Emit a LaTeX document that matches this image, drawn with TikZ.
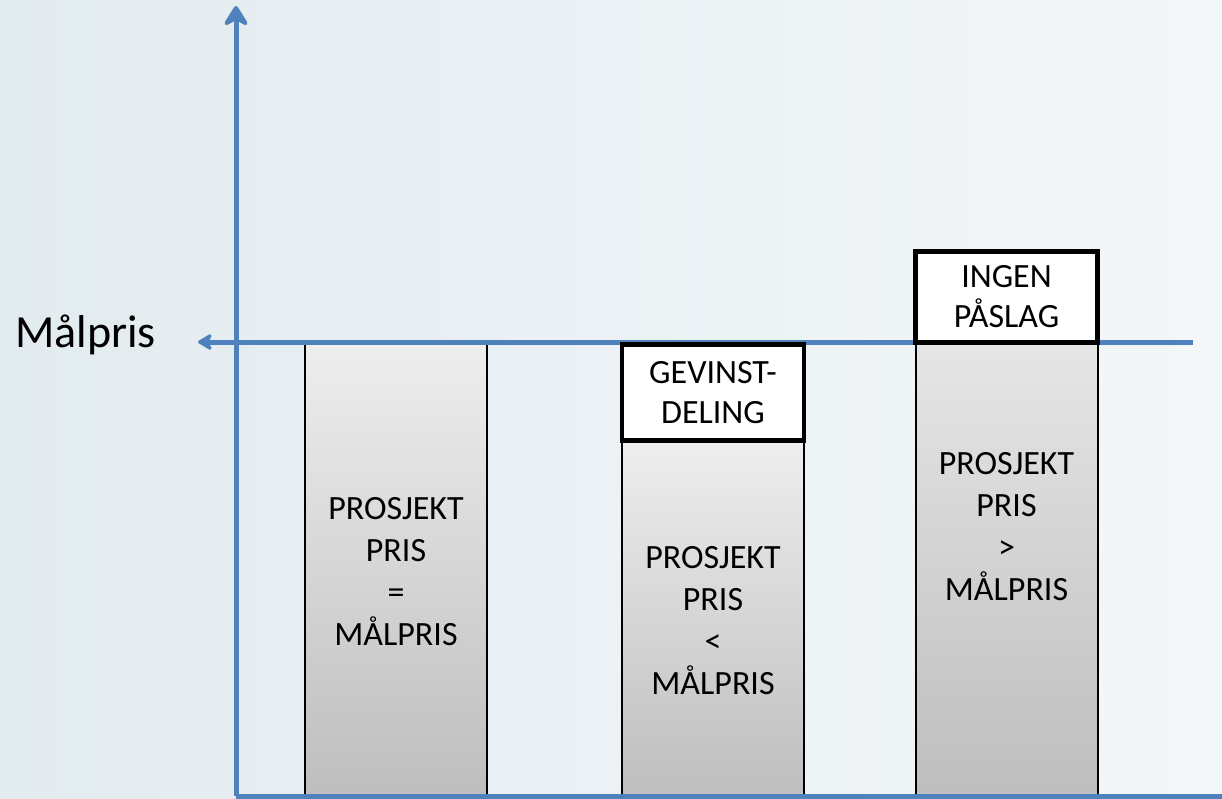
\documentclass[tikz,border=0pt]{standalone}
\usepackage{fontspec}
\setmainfont{Carlito}
\usetikzlibrary{arrows.meta}
\definecolor{axisblue}{HTML}{4F81BD}
\definecolor{bgleft}{HTML}{E2EBEF}
\definecolor{bgright}{HTML}{F4F7F9}
\definecolor{bartop}{HTML}{EEEEEE}
\definecolor{barbot}{HTML}{BDBDBD}
\tikzset{
  axis/.style={draw=axisblue, line width=5pt},
  bar/.style={draw=black, line width=2pt, shade, top color=bartop, bottom color=barbot,
    minimum width=182pt, inner sep=0pt, anchor=north, align=center,
    font=\fontsize{34}{42}\selectfont},
  tagbox/.style={draw=black, line width=4.5pt, fill=white, minimum width=182pt,
    inner sep=0pt, anchor=north, align=center, font=\fontsize{34}{40}\selectfont},
}
\begin{document}
\begin{tikzpicture}[x=1pt,y=-1pt]
\useasboundingbox (0,0) rectangle (1222,798);
\shade[left color=bgleft, right color=bgright] (0,0) rectangle (1222,798);
% bars
\node[bar, minimum height=460pt] (bar1) at (396,341) {PROSJEKT\\PRIS\\=\\MÅLPRIS};
\node[bar, minimum height=362pt] (bar2) at (713,439) {PROSJEKT\\PRIS\\<\\MÅLPRIS};
\node[bar, minimum height=553pt] (bar3) at (1006.5,249) {PROSJEKT\\PRIS\\>\\MÅLPRIS};
% axes
\coordinate (O) at (236,796);
\coordinate (ytop) at (236,6);
\coordinate (xend) at (1230,796);
\coordinate (tR) at (1193,342);
\coordinate (tL) at (198,342);
\draw[axis] (O) -- (xend);
\draw[axis, -{Stealth[length=24pt,width=30pt,inset=8pt,line join=round]}] (O) -- (ytop);
\draw[axis, -{Stealth[length=17pt,width=20pt,inset=5pt,line join=round]}] (tR) -- (tL);
% tag boxes
\node[tagbox, minimum height=96pt] (gev) at (713,342) {GEVINST-\\DELING};
\node[tagbox, minimum height=91pt] (ingen) at (1006.5,249) {INGEN\\PÅSLAG};
% label
\node[anchor=base west, inner sep=0pt, font=\fontsize{46}{52}\selectfont] (malpris) at (15,347) {Målpris};
\end{tikzpicture}
\end{document}
